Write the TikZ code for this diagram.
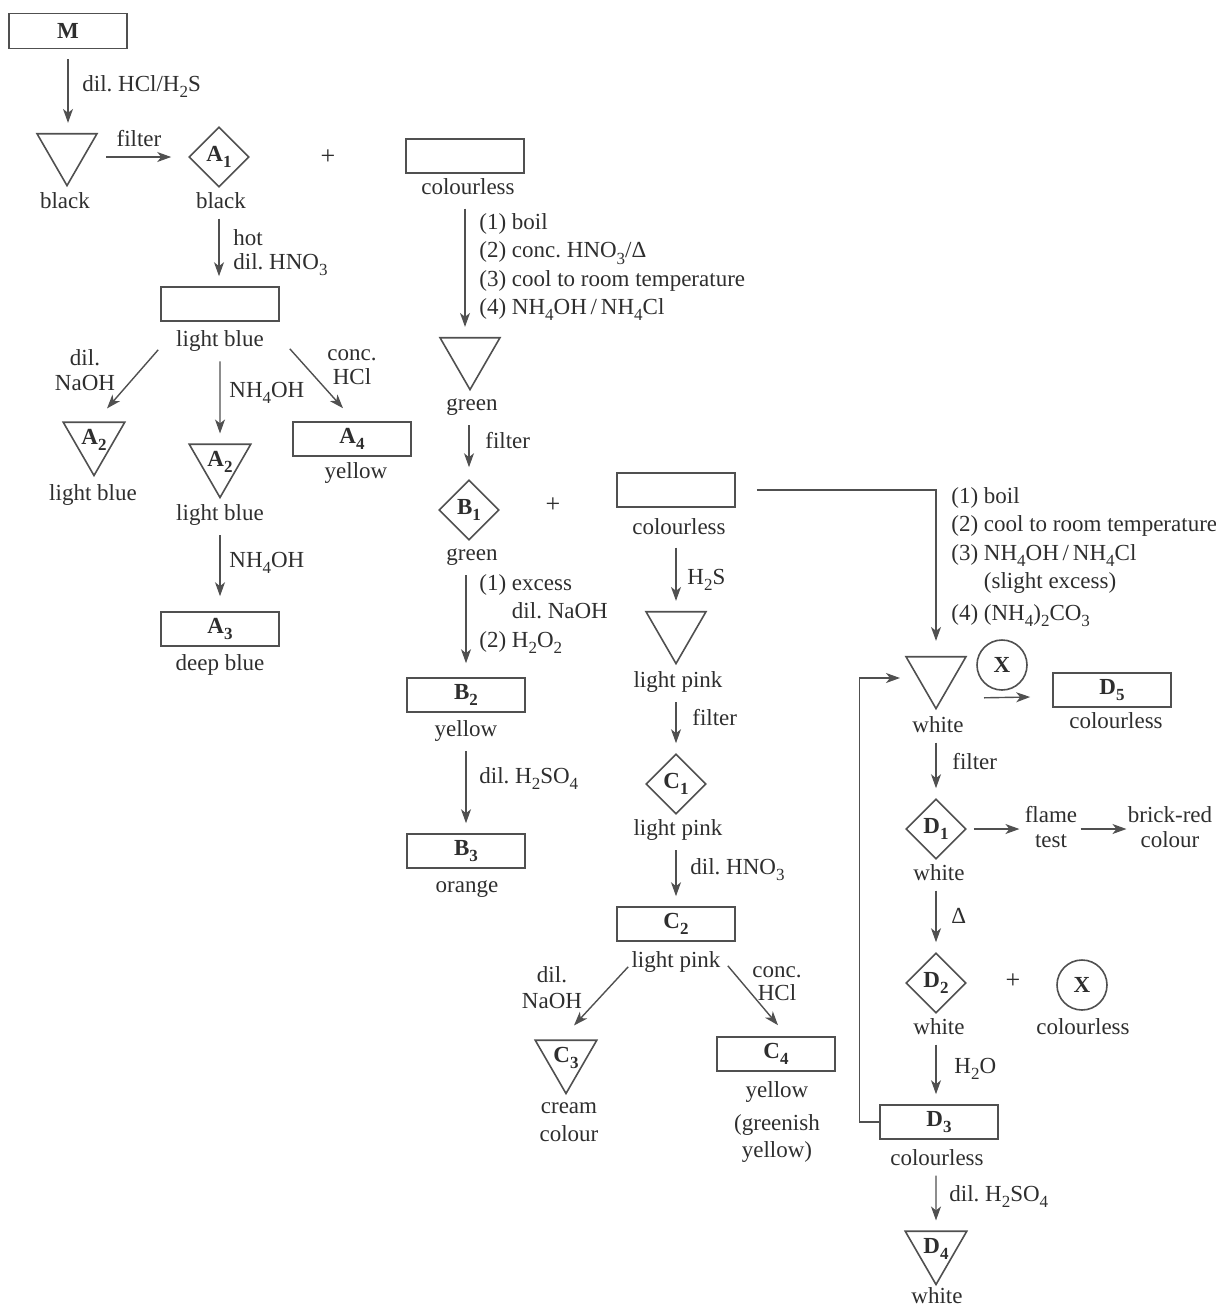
\documentclass[tikz,border=0pt]{standalone}
\usepackage{fontspec}
\setmainfont{Liberation Serif}
\usetikzlibrary{arrows.meta,calc,shapes.geometric}
\definecolor{ink}{HTML}{2E2E2E}
\definecolor{inksoft}{HTML}{505050}
\newcommand{\chsub}[1]{\raisebox{-0.6ex}{\fontsize{8.5}{8.5}\selectfont #1}}
\frenchspacing

\begin{document}
\begin{tikzpicture}[
  x=0.5pt, y=-0.5pt,
  font=\fontsize{11.5}{14.2}\selectfont,
  text=ink,
  >={Stealth[length=7pt,width=5pt,inset=2pt]},
  soln/.style={draw=inksoft, line width=0.8pt, minimum width=59pt, minimum height=17pt, inner sep=0pt, font=\fontsize{11.5}{14.2}\selectfont\bfseries},
  ppt/.style={draw=inksoft, line width=0.8pt, regular polygon, regular polygon sides=3, shape border rotate=180, minimum size=34.6pt, inner sep=0pt, font=\fontsize{11.5}{14.2}\selectfont\bfseries},
  cryst/.style={draw=inksoft, line width=0.8pt, diamond, minimum width=30pt, minimum height=30pt, inner sep=0pt, font=\fontsize{11.5}{14.2}\selectfont\bfseries},
  gas/.style={draw=inksoft, line width=0.8pt, circle, minimum size=25pt, inner sep=0pt, font=\fontsize{11.5}{14.2}\selectfont\bfseries},
  colname/.style={inner sep=0pt, anchor=base},
  twoline/.style={inner sep=0pt, anchor=north, align=center},
  cond/.style={inner sep=0pt, anchor=base west},
  condblock/.style={inner sep=0pt, anchor=north west, align=left},
  plus/.style={font=\fontsize{13}{14}\selectfont},
  react/.style={->, draw=inksoft, line width=0.7pt, shorten <=5pt, shorten >=5pt},
  diag/.style={react, shorten <=0pt, shorten >=0pt}
]
\useasboundingbox (0,0) rectangle (1216,1308);

% M and the black precipitate
\node[soln, minimum height=17.5pt] (M) at (68,31) {M};
\node[ppt] (P1) at (67,151) {};
\node[colname] (cP1) at (65,208) {black};
\draw[react] (M) -- (M |- P1.north);
\node[cond] (lHCl) at (82,91) {dil. HCl/H\chsub{2}S};
\node[cryst] (A1) at (219,157) {A\chsub{1}};
\node[colname] (cA1) at (221,208) {black};
\draw[react, shorten <=19.5pt, shorten >=8.5pt] (P1.center |- A1.west) -- (A1.west);
\node[colname] (lfilter1) at (139,146) {filter};
\node[plus] (plus1) at (328,157) {+};

% (A) copper branch
\node[soln] (LB) at (220,304) {};
\node[colname] (cLB) at (220,346) {light blue};
\draw[react] (A1 |- cA1.south) -- (A1 |- LB.north);
\node[condblock] (lHNO1) at (233,229) {hot\\[-2.2pt]dil. HNO\chsub{3}};

\node[ppt] (A2a) at (94,440) {A\chsub{2}};
\node[colname] (cA2a) at (93,500) {light blue};
\node[ppt] (A2b) at (220,462) {A\chsub{2}};
\node[colname] (cA2b) at (220,520) {light blue};
\node[soln] (A4) at (352,439) {A\chsub{4}};
\node[colname] (cA4) at (356,478) {yellow};
\node[soln] (A3) at (220,629) {A\chsub{3}};
\node[colname] (cA3) at (220,670) {deep blue};

\draw[diag] ($(LB.south west)+(-2,28)$) -- ($(A2a.north)+(13,-13)$);
\node[twoline] (lNaOH1) at (85,349) {dil.\\[-1.7pt]NaOH};
\draw[react] (A2b |- cLB.south) -- (A2b.north);
\node[cond] (lNH1) at (229,397) {NH\chsub{4}OH};
\draw[diag] ($(LB.south east)+(10,27)$) -- ($(A4.north)+(-9,-13)$);
\node[twoline] (lHCl1) at (352,349) {conc.\\[-2.2pt]HCl};
\draw[react, shorten >=7.5pt] (A2b |- cA2b.south) -- (A2b |- A3.north);
\node[cond] (lNH2) at (229,567) {NH\chsub{4}OH};

% (B) chromium branch
\node[soln] (S1) at (465,156) {};
\node[colname] (cS1) at (468,194) {colourless};
\node[ppt] (P2) at (470,355) {};
\node[colname] (cP2) at (472,410) {green};
\draw[react, shorten <=7pt] (S1 |- cS1.south) -- (S1 |- P2.north);
\node[condblock] (lsteps1) at (479,213) {(1) boil\\(2) conc. HNO\chsub{3}/Δ\\(3) cool to room temperature\\(4) NH\chsub{4}OH\,/\,NH\chsub{4}Cl};

\node[cryst] (B1) at (469,510) {B\chsub{1}};
\node[colname] (cB1) at (472,560) {green};
\draw[react, shorten >=6pt] (B1 |- cP2.south) -- (B1.north);
\node[cond] (lfilter2) at (485,448) {filter};
\node[plus] (plus2) at (553,505) {+};

\node[soln] (B2) at (466,695) {B\chsub{2}};
\node[colname] (cB2) at (466,736) {yellow};
\draw[react, shorten >=7pt] (B2 |- cB1.south) -- (B2.north);
\node[condblock] (lsteps2) at (479,574) {(1) excess\\\phantom{(1) }dil. NaOH\\(2) H\chsub{2}O\chsub{2}};

\node[soln] (B3) at (466,851) {B\chsub{3}};
\node[colname] (cB3) at (467,892) {orange};
\draw[react] (B3 |- cB2.south) -- (B3.north);
\node[cond] (lH2SO1) at (479,783) {dil. H\chsub{2}SO\chsub{4}};

% (C) nickel branch
\node[soln] (S2) at (676,490) {};
\node[colname] (cS2) at (679,534) {colourless};
\node[ppt] (P3) at (676,629) {};
\node[colname] (cP3) at (678,687) {light pink};
\draw[react, shorten <=6.5pt] (S2 |- cS2.south) -- (S2 |- P3.north);
\node[cond] (lH2S) at (687,584) {H\chsub{2}S};

\node[cryst] (C1) at (676,784) {C\chsub{1}};
\node[colname] (cC1) at (678,835) {light pink};
\draw[react] (C1 |- cP3.south) -- (C1.north);
\node[cond] (lfilter3) at (692,725) {filter};

\node[soln] (C2) at (676,924) {C\chsub{2}};
\node[colname] (cC2) at (676,967) {light pink};
\draw[react] (C2 |- cC1.south) -- (C2.north);
\node[cond] (lHNO2) at (690,874) {dil. HNO\chsub{3}};

\node[ppt] (C3) at (566,1058) {C\chsub{3}};
\node[twoline] (cC3) at (569,1102) {cream\\colour};
\node[soln] (C4) at (776,1054) {C\chsub{4}};
\node[twoline] (cC4) at (777,1081) {yellow\\[2.3pt](greenish\\[-0.7pt]yellow)};
\draw[diag] ($(C2.south west)+(12,25)$) -- ($(C3.north)+(8,-14)$);
\node[twoline] (lNaOH2) at (552,966) {dil.\\[-1.2pt]NaOH};
\draw[diag] ($(C2.south east)+(-8,24)$) -- ($(C4.north)+(2,-11)$);
\node[twoline] (lHCl2) at (777,966) {conc.\\[-2.7pt]HCl};

% (D) calcium branch
\node[ppt] (P4) at (936,674) {};
\node[colname] (cP4) at (938,732) {white};
\draw[react, shorten <=10.5pt, shorten >=7.5pt] (S2.east) -| (P4.north);
\node[condblock] (lsteps3) at (951,487) {(1) boil\\(2) cool to room temperature\\(3) NH\chsub{4}OH\,/\,NH\chsub{4}Cl\\\phantom{(3) }(slight excess)\\[1.8pt](4) (NH\chsub{4})\chsub{2}CO\chsub{3}};

\node[gas] (X1) at (1002,665) {X};
\node[soln] (D5) at (1112,690) {D\chsub{5}};
\node[colname] (cD5) at (1116,728) {colourless};
\draw[diag] ($(X1.south)+(-18,7)$) -- ($(D5.west)+(-22,7)$);

\node[cryst] (D1) at (936,829) {D\chsub{1}};
\node[colname] (cD1) at (939,880) {white};
\draw[react] (D1 |- cP4.south) -- (D1.north);
\node[cond] (lfilter4) at (952,769) {filter};

\node[twoline] (flame) at (1051,806) {flame\\[-1.7pt]test};
\node[twoline] (brick) at (1170,806) {brick-red\\[-1.7pt]colour};
\draw[react, shorten <=3.5pt, shorten >=2.5pt] (D1.east) -- (D1.east -| flame.west);
\draw[react, shorten <=1.5pt, shorten >=0.5pt] (flame.east |- D1.east) -- (D1.east -| brick.west);

\node[cryst] (D2) at (936,983) {D\chsub{2}};
\node[colname] (cD2) at (939,1034) {white};
\draw[react] (D2 |- cD1.south) -- (D2.north);
\node[cond] (lheat) at (951,923) {Δ};
\node[plus] (plus3) at (1013,981) {+};
\node[gas] (X2) at (1082,985) {X};
\node[colname] (cX2) at (1083,1034) {colourless};

\node[soln] (D3) at (939,1122) {D\chsub{3}};
\node[colname] (cD3) at (937,1165) {colourless};
\draw[react] (D2 |- cD2.south) -- (D2 |- D3.north);
\node[cond] (lH2O) at (954,1073) {H\chsub{2}O};
\draw[diag] (D3.west) -- ++(-20,0) |- ($(P4.center)+(-36,4)$);

\node[ppt] (D4) at (936,1249) {D\chsub{4}};
\node[colname] (cD4) at (937,1303) {white};
\draw[react] (D4 |- cD3.south) -- (D4.north);
\node[cond] (lH2SO2) at (949,1201) {dil. H\chsub{2}SO\chsub{4}};

\end{tikzpicture}
\end{document}
